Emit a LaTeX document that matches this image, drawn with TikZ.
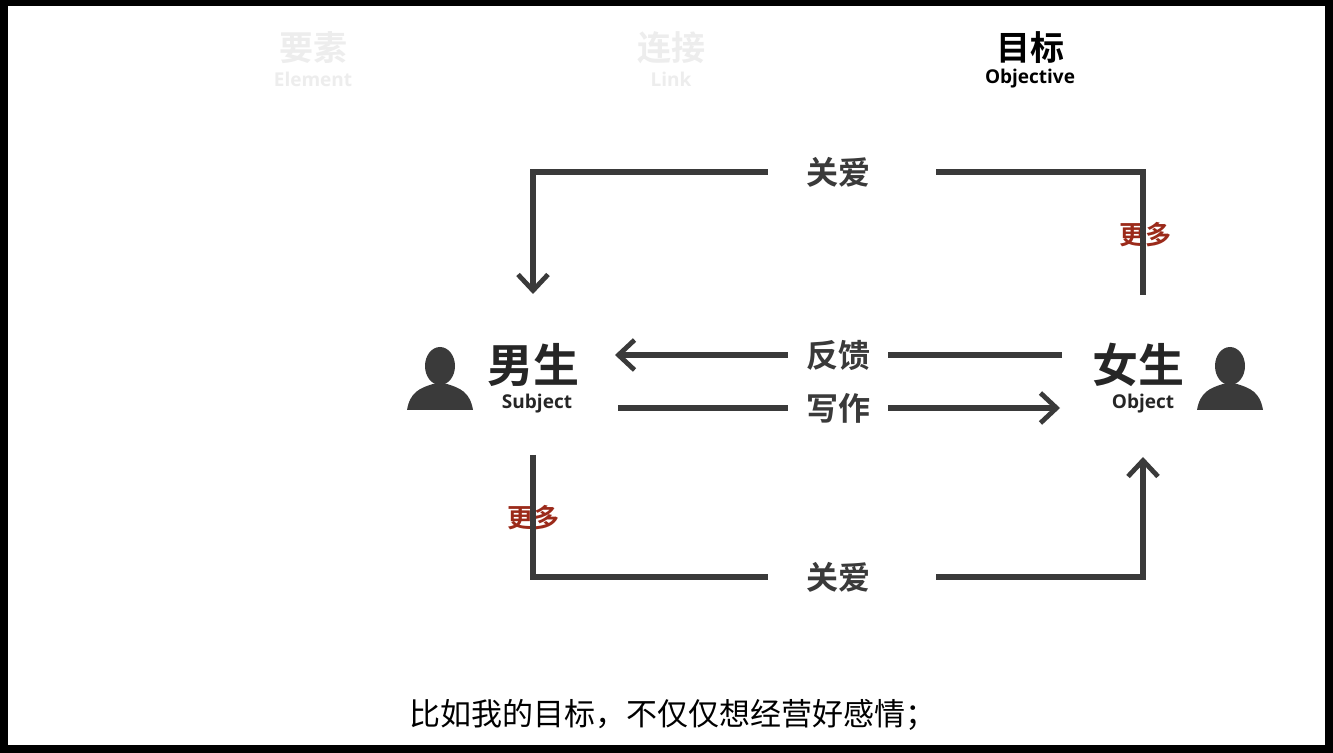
\documentclass[tikz,border=0pt]{standalone}
\usepackage{fontspec}
\newfontfamily\cjk[BoldFont={Noto Sans CJK SC Bold}]{Noto Sans CJK SC}
\newfontfamily\latin{Open Sans}
\usetikzlibrary{arrows.meta,positioning,calc}
\definecolor{linegray}{HTML}{3A3A3A}
\definecolor{ghost}{HTML}{EDEDED}
\definecolor{morered}{HTML}{9B2A1A}
\tikzset{
  flow/.style={draw=linegray,line width=2.6pt},
  tip/.style={-{Straight Barb[length=8pt,width=15pt,line width=2.4pt]}},
  lbl/.style={font=\cjk\bfseries\fontsize{16}{18}\selectfont,text=linegray,inner xsep=9pt},
  care/.style={lbl,inner xsep=19pt},
  more/.style={font=\cjk\bfseries\fontsize{13}{15}\selectfont,text=morered},
  who/.style={font=\cjk\bfseries\fontsize{23}{26}\selectfont,text=black!85},
  sub/.style={font=\latin\bfseries\fontsize{9.5}{11}\selectfont,text=black!85},
  head/.style={font=\cjk\bfseries\fontsize{17}{19}\selectfont},
  headsub/.style={font=\latin\bfseries\fontsize{9.5}{11}\selectfont}
}
\newcommand\personicon[1]{%
  \fill[linegray] ($(#1)+(0,-14)$) ellipse (15 and 19);
  \fill[linegray] ($(#1)+(-33,30)$) .. controls ($(#1)+(-30,12)$) and ($(#1)+(-20,8)$) .. ($(#1)+(-7,4)$)
    -- ($(#1)+(7,4)$) .. controls ($(#1)+(20,8)$) and ($(#1)+(30,12)$) .. ($(#1)+(33,30)$) -- cycle;}
\begin{document}
\begin{tikzpicture}[x=0.5pt,y=-0.5pt]
\fill[black] (0,0) rectangle (1333,753);
\fill[white] (8,6) rectangle (1325,745);
\useasboundingbox (0,0) rectangle (1333,753);
% headers
\node[head,text=ghost] (h1) at (313,48) {要素};
\node[headsub,text=ghost] (h1s) at (313,79) {Element};
\node[head,text=ghost] (h2) at (671,48) {连接};
\node[headsub,text=ghost] (h2s) at (671,79) {Link};
\node[head] (h3) at (1030,48) {目标};
\node[headsub] (h3s) at (1030,79) {Objective};
% persons
\node[who] (boy) at (533,365) {男生};
\node[sub] (boys) at (537,404) {Subject};
\node[who] (girl) at (1138,365) {女生};
\node[sub] (girls) at (1143,404) {Object};
\personicon{440,380}
\personicon{1230,380}
% labels
\node[care] (caretop) at (838,172) {关爱};
\node[care] (carebot) at (838,577) {关爱};
\node[lbl] (feed) at (838,355) {反馈};
\node[lbl] (write) at (838,408) {写作};
\node[more] (moretop) at (1145,235) {更多};
\node[more] (morebot) at (533,518) {更多};
% connectors
\coordinate (gtop) at (1143,295);
\coordinate (btop) at (533,294);
\coordinate (bbot) at (533,455);
\coordinate (gbot) at (1143,457);
\coordinate[right=14pt of caretop.east] (caretopr);
\coordinate[right=14pt of carebot.east] (carebotr);
\draw[flow] (gtop) |- (caretopr);
\draw[flow,tip] (caretop.west) -| (btop);
\draw[flow] (bbot) |- (carebot.west);
\draw[flow,tip] (carebotr) -| (gbot);
\draw[flow] (1062,355) -- (feed.east);
\draw[flow,tip] (feed.west) -- (615,355);
\draw[flow] (618,408) -- (write.west);
\draw[flow,tip] (write.east) -- (1060,408);
% caption
\node[font=\cjk\fontsize{15.5}{17}\selectfont] (cap) at (673,715) {比如我的目标，不仅仅想经营好感情；};
\end{tikzpicture}
\end{document}
